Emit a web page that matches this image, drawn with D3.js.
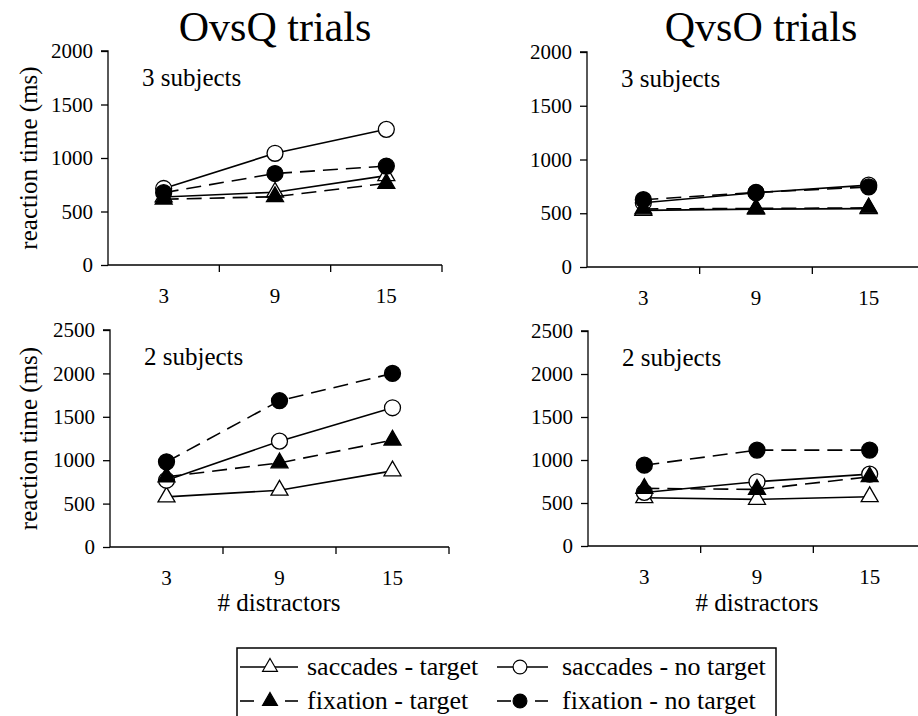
<!DOCTYPE html>
<html><head><meta charset="utf-8">
<script src="https://cdn.jsdelivr.net/npm/d3@7"></script>
<style>
html,body{margin:0;padding:0;background:#fff;}
svg{display:block;}
</style></head>
<body>
<svg id="chart" width="918" height="716"></svg>
<script>
// ---------- data ----------
const categories = ["3", "9", "15"];
const seriesNames = ["saccades - target", "saccades - no target", "fixation - target", "fixation - no target"];
const columnTitles = ["OvsQ trials", "QvsO trials"];
const rowLabels = ["3 subjects", "2 subjects"];
const yTicksTop = [0, 500, 1000, 1500, 2000];
const yTicksBottom = [0, 500, 1000, 1500, 2000, 2500];

// OvsQ, 3 subjects
const ovsq3SacTarget = [635, 680, 835];
const ovsq3SacNoTarget = [715, 1044, 1268];
const ovsq3FixTarget = [615, 638, 763];
const ovsq3FixNoTarget = [676, 855, 925];
// QvsO, 3 subjects
const qvso3SacTarget = [527, 538, 543];
const qvso3SacNoTarget = [598, 691, 762];
const qvso3FixTarget = [540, 545, 550];
const qvso3FixNoTarget = [626, 693, 745];
// OvsQ, 2 subjects
const ovsq2SacTarget = [577, 654, 877];
const ovsq2SacNoTarget = [769, 1219, 1604];
const ovsq2FixTarget = [808, 969, 1231];
const ovsq2FixNoTarget = [981, 1685, 2000];
// QvsO, 2 subjects
const qvso2SacTarget = [561, 542, 573];
const qvso2SacNoTarget = [623, 747, 836];
const qvso2FixTarget = [670, 658, 805];
const qvso2FixNoTarget = [940, 1115, 1115];

// ---------- styles ----------
const FONT = "'Liberation Serif','Times New Roman',Times,Tinos,'Nimbus Roman','Nimbus Roman No9 L','FreeSerif','Noto Serif','DejaVu Serif',serif";
const seriesStyle = [
  {shape: d3.symbolTriangle, fill: "#fff", dash: null},
  {shape: d3.symbolCircle,   fill: "#fff", dash: null},
  {shape: d3.symbolTriangle, fill: "#000", dash: "15,8"},
  {shape: d3.symbolCircle,   fill: "#000", dash: "15,8"}
];

const panels = [
  {x0:108, x1:442, y0:265, y1:51,  max:2000, ticks:yTicksTop,    label:rowLabels[0], ylab:true,
   series:[ovsq3SacTarget, ovsq3SacNoTarget, ovsq3FixTarget, ovsq3FixNoTarget]},
  {x0:587, x1:925, y0:267, y1:52,  max:2000, ticks:yTicksTop,    label:rowLabels[0], ylab:false,
   series:[qvso3SacTarget, qvso3SacNoTarget, qvso3FixTarget, qvso3FixNoTarget]},
  {x0:110, x1:449, y0:547, y1:330, max:2500, ticks:yTicksBottom, label:rowLabels[1], ylab:true,
   series:[ovsq2SacTarget, ovsq2SacNoTarget, ovsq2FixTarget, ovsq2FixNoTarget]},
  {x0:588, x1:926, y0:546, y1:331, max:2500, ticks:yTicksBottom, label:rowLabels[1], ylab:false,
   series:[qvso2SacTarget, qvso2SacNoTarget, qvso2FixTarget, qvso2FixNoTarget]}
];

const svg = d3.select("#chart").attr("font-family", FONT);

panels.forEach((p, pi) => {
  const x = d3.scaleBand().domain(categories).range([p.x0, p.x1]).paddingInner(0).paddingOuter(0);
  const y = d3.scaleLinear().domain([0, p.max]).range([p.y0, p.y1]);
  const g = svg.append("g");

  // y axis
  const ya = g.append("g").attr("transform", `translate(${p.x0},0)`)
    .call(d3.axisLeft(y).tickValues(p.ticks).tickSize(7).tickPadding(8).tickFormat(d3.format("d")));
  ya.attr("font-family", FONT);
  ya.select(".domain").attr("stroke", "#000").attr("stroke-width", 1.3).attr("d", `M-7,${p.y1}H0V${p.y0}`);
  ya.selectAll(".tick line").attr("stroke", "#000").attr("stroke-width", 1.3);
  ya.selectAll(".tick text").attr("font-size", 21).attr("fill", "#000");

  // x axis with ticks at category boundaries
  const xa = g.append("g").attr("transform", `translate(0,${p.y0})`)
    .call(d3.axisBottom(x).tickSize(0).tickPadding(23));
  xa.attr("font-family", FONT);
  xa.select(".domain").attr("stroke", "#000").attr("stroke-width", 1.3).attr("d", `M${p.x0},0H${p.x1}`);
  xa.selectAll(".tick text").attr("font-size", 21).attr("fill", "#000");
  const bounds = categories.map(c => x(c) + x.bandwidth());
  xa.selectAll(".bnd").data(bounds).enter().append("line").attr("class", "bnd")
    .attr("x1", d => d).attr("x2", d => d).attr("y1", 0).attr("y2", 7)
    .attr("stroke", "#000").attr("stroke-width", 1.3);

  // series
  p.series.forEach((vals, si) => {
    const st = seriesStyle[si];
    const pts = vals.map((v, i) => [x(categories[i]) + x.bandwidth() / 2, y(v)]);
    g.append("path").attr("d", d3.line()(pts)).attr("fill", "none")
      .attr("stroke", "#000").attr("stroke-width", 1.6)
      .attr("stroke-dasharray", st.dash);
    const size = st.shape === d3.symbolCircle ? 200 : 125;
    g.selectAll(null).data(pts).enter().append("path")
      .attr("d", d3.symbol().type(st.shape).size(size))
      .attr("transform", d => `translate(${d[0]},${d[1]})`)
      .attr("fill", st.fill).attr("stroke", "#000").attr("stroke-width", 1.3);
  });

  // subject label
  g.append("text").attr("x", p.x0 + 34).attr("y", p.y1 + 35)
    .attr("font-size", 25).text(p.label);

  // y label
  if (p.ylab) {
    g.append("text").attr("transform", `translate(37,${(p.y0 + p.y1) / 2}) rotate(-90)`)
      .attr("text-anchor", "middle").attr("font-size", 25).text("reaction time (ms)");
  }

  // x label on bottom row
  if (pi >= 2) {
    g.append("text").attr("x", pi === 2 ? 279 : 757).attr("y", 611)
      .attr("text-anchor", "middle").attr("font-size", 25).text("# distractors");
  }
});

// column titles
svg.append("text").attr("x", 275).attr("y", 41).attr("text-anchor", "middle")
  .attr("font-size", 42).text(columnTitles[0]);
svg.append("text").attr("x", 761).attr("y", 41).attr("text-anchor", "middle")
  .attr("font-size", 42).text(columnTitles[1]);

// legend
const leg = svg.append("g");
leg.append("rect").attr("x", 237).attr("y", 648).attr("width", 539).attr("height", 80)
  .attr("fill", "#fff").attr("stroke", "#000").attr("stroke-width", 1.5);
const legPos = [
  {lx:240, mx:270, tx:307, y:667},
  {lx:497, mx:520, tx:562, y:667},
  {lx:240, mx:270, tx:307, y:701},
  {lx:497, mx:520, tx:562, y:701}
];
seriesNames.forEach((name, i) => {
  const st = seriesStyle[i];
  const lp = legPos[i];
  if (st.dash) {
    leg.append("line").attr("x1", lp.lx).attr("x2", lp.lx + 14).attr("y1", lp.y).attr("y2", lp.y)
      .attr("stroke", "#000").attr("stroke-width", 1.6);
    leg.append("line").attr("x1", lp.mx + 15).attr("x2", lp.mx + 28).attr("y1", lp.y).attr("y2", lp.y)
      .attr("stroke", "#000").attr("stroke-width", 1.6);
  } else {
    leg.append("line").attr("x1", lp.lx).attr("x2", lp.mx + 28).attr("y1", lp.y).attr("y2", lp.y)
      .attr("stroke", "#000").attr("stroke-width", 1.6);
  }
  const size = st.shape === d3.symbolCircle ? 150 : 95;
  leg.append("path").attr("d", d3.symbol().type(st.shape).size(size))
    .attr("transform", `translate(${lp.mx},${lp.y})`)
    .attr("fill", st.fill).attr("stroke", "#000").attr("stroke-width", 1.2);
  leg.append("text").attr("x", lp.tx).attr("y", lp.y + 8)
    .attr("font-size", 26).text(name);
});
</script>
</body></html>
